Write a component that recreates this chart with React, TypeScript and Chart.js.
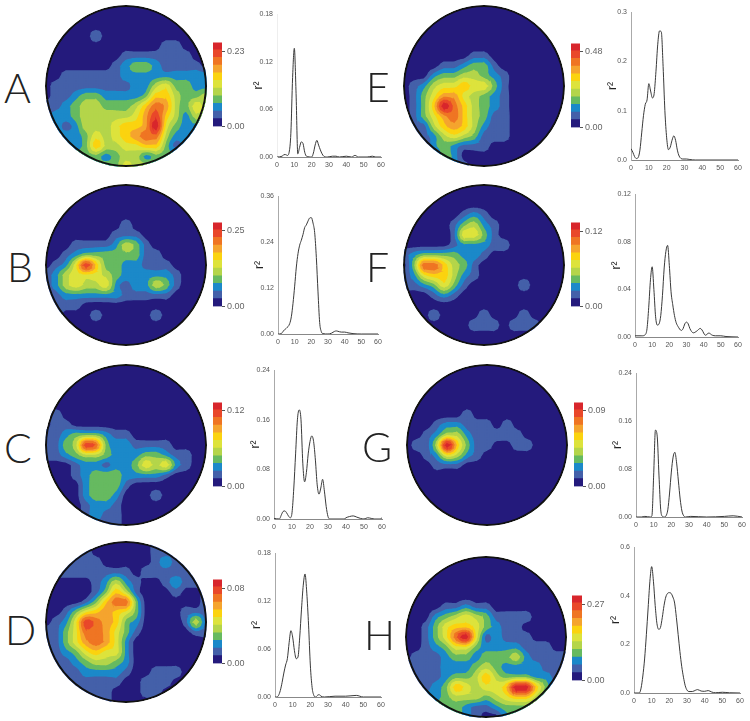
import React, { useEffect, useRef } from "react";
import { Chart, registerables } from "chart.js";

Chart.register(...registerables);

const Z = "00000000000000000";

const bandColors = ["#241a7c", "#4460a9", "#1b89c9", "#66ba60", "#b4d54a", "#dde33c", "#fbd30f", "#f5a42e", "#ef7523", "#e9482a", "#d8262c"];

// Colour band at each sample of a 17 x 17 grid over the disc (hex digit = band index)
const gridA = [Z, Z, Z, "00000100000000000", "00000000000011000", "00000000111111100", "00000001233211110", "00111111222222222", "01111111122453322", "01123322223664334", "11234433346874354", "12234444457964244", "12124445667a53223", "22223545678842211", "22223644556631222", "33333323442333333", "33333333544333333"];
const gridB = [Z, Z, Z, Z, "00000000100000000", "00000001110000000", "00011112431000000", "00123333331100000", "01259633221110000", "12455543222221000", "12454452122431000", "11222222111110000", "11110000000000000", "01000100000100000", Z, Z, Z];
const gridC = [Z, Z, Z, Z, Z, "01000000000000000", "01100000000000000", "11233321100000000", "11349832211110000", "11234432223321100", "00012212235452100", "00012333222210000", "00002333100000000", "00002332000100000", "00001221000000000", "00001211000000000", "00000111000000000"];
const gridD = ["11111000000111111", "11111000000111111", "11111100000121111", "11111111101111111", "00000124210012111", "00000136410001001", "00001368830000001", "00135676530000111", "01259876320000141", "11358875310000011", "11357875200000000", "11235655200000000", "11123443200000000", "11112222100111000", "11111111001110000", "11111110001100000", "11111110000000000"];
const gridE = [Z, Z, Z, Z, Z, "00000001100000000", "00001123310000000", "00023344321000000", "01245565531000000", "01357754321000000", "0136a864321000000", "01357864311000000", "01146764211000000", "00124543111000000", "00023211100000000", "00003200000000000", "00003210000000000"];
const gridF = [Z, Z, Z, "00000012100000000", "00000134210000000", "00000155310000000", "00000122211000000", "12333322100000000", "03886431000000000", "12566421000000000", "11235310000010000", "00012100000000000", Z, "00010000100010000", "00000001110111000", Z, Z];
const gridG = [Z, Z, Z, Z, Z, "00000010000000000", "00012211101000000", "00124421111100000", "0114a631100110000", "00125421000000000", "00011100000000000", Z, Z, Z, Z, Z, Z];
const gridH = [Z, Z, Z, Z, Z, "00001121100000000", "00023454311110000", "00135665321100000", "001358a5121110000", "00123553222211100", "01112332333421111", "11112223432222111", "11112334643332211", "11123654556aa6311", "22223444345664222", "33333321123333333", "33333321002333333"];

// r² curves: [x, r²]
const curveA = [[0,0],[3,.001],[4,.003],[5,.003],[6,.002],[7,.006],[8,.03],[9,.1],[10,.137],[11,.08],[12,.004],[13,.012],[14,.019],[15,.017],[16,.006],[17,.001],[20,0],[21,.005],[22,.015],[23,.021],[24,.015],[25,.009],[26,.004],[27,.001],[29,0],[32,.001],[34,.001],[36,0],[40,.001],[43,0],[45,.002],[47,0],[52,0],[55,.001],[57,0],[60,0]];
const curveB = [[0,0],[2,.001],[3,.007],[5,.015],[7,.027],[8,.045],[9,.08],[10,.125],[11,.175],[12,.21],[13,.232],[14,.245],[15,.26],[16,.278],[17,.285],[18,.295],[19,.303],[20,.304],[21,.29],[22,.265],[23,.2],[24,.11],[25,.03],[26,.006],[27,.001],[30,0],[32,.002],[34,.007],[35,.008],[36,.007],[38,.005],[40,.005],[42,.003],[45,.001],[50,0],[60,0]];
const curveC = [[0,.001],[3,0],[4,.006],[5,.012],[6,.013],[7,.01],[8,.005],[9,.002],[10,.01],[11,.05],[12,.105],[13,.16],[14,.176],[15,.16],[16,.09],[17,.06],[18,.075],[19,.105],[20,.125],[21,.134],[22,.125],[23,.095],[24,.055],[25,.04],[26,.05],[27,.064],[28,.045],[29,.02],[30,.004],[31,0],[39,0],[40,.002],[42,.004],[44,.005],[46,.003],[48,.001],[50,0],[52,.002],[54,.001],[56,0],[59,0],[60,.002]];
const curveD = [[0,0],[1,0],[2,.002],[3,.008],[4,.018],[5,.03],[6,.04],[7,.048],[8,.068],[9,.083],[10,.075],[11,.058],[12,.048],[13,.05],[14,.075],[15,.11],[16,.14],[17,.154],[18,.13],[19,.09],[20,.04],[21,.012],[22,.002],[23,0],[24,.002],[25,.003],[26,.001],[28,0],[34,.001],[40,.001],[46,.002],[50,0],[60,0]];
const curveE = [[0,.023],[1,.016],[2,.007],[3,.003],[4,.005],[5,.02],[6,.055],[7,.09],[8,.113],[9,.122],[10,.155],[11,.14],[12,.126],[13,.135],[14,.18],[15,.235],[16,.262],[17,.26],[18,.19],[19,.1],[20,.045],[21,.021],[22,.026],[23,.04],[24,.049],[25,.04],[26,.02],[27,.008],[29,.002],[31,.002],[33,.001],[36,0],[60,0]];
const curveF = [[0,.001],[4,.001],[6,.002],[7,.007],[8,.025],[9,.048],[10,.059],[11,.04],[12,.017],[13,.01],[14,.011],[15,.018],[16,.035],[17,.058],[18,.072],[19,.077],[20,.06],[21,.038],[22,.027],[23,.018],[24,.012],[25,.009],[27,.0055],[28,.007],[29,.011],[30,.0125],[31,.011],[32,.007],[34,.0035],[36,.005],[38,.0072],[39,.006],[41,.0015],[43,.0033],[45,.0015],[47,.001],[50,.001],[53,.0004],[60,0]];
const curveG = [[0,0],[3,0],[5,.001],[8,0],[9,.002],[10,.07],[11,.145],[12,.135],[13,.07],[14,.012],[15,.001],[16,0],[17,.002],[18,.012],[19,.04],[20,.075],[21,.1],[22,.108],[23,.09],[24,.06],[25,.03],[26,.01],[27,.002],[28,0],[31,.001],[40,0],[50,.001],[55,.002],[60,0]];
const curveH = [[0,0],[3,0],[4,.02],[5,.07],[6,.14],[7,.24],[8,.35],[9,.46],[10,.52],[11,.46],[12,.36],[13,.285],[14,.262],[15,.27],[16,.31],[17,.36],[18,.395],[19,.41],[20,.413],[21,.41],[22,.395],[23,.37],[24,.31],[25,.24],[26,.17],[27,.11],[28,.065],[29,.03],[30,.012],[31,.006],[33,.006],[35,.012],[36,.014],[38,.008],[40,.007],[42,.01],[44,.004],[46,.001],[50,.003],[54,.001],[60,0]];

const xTicks = [0, 10, 20, 30, 40, 50, 60];

const panels = [
  { letter: "A", lx: 4, ly: 67, grid: gridA, cx: 126, cy: 86, bar: [213, 41, 9, 87], scaleMax: 0.2565, label: 0.23, curve: curveA, plot: [277, 12, 104, 145], yTicks: [0, 0.06, 0.12, 0.18], dec: 2, axis: "#eeeeee" },
  { letter: "B", lx: 7, ly: 246, grid: gridB, cx: 126, cy: 265, bar: [213, 221, 9, 87], scaleMax: 0.2763, label: 0.25, curve: curveB, plot: [278, 194, 100, 140], yTicks: [0, 0.12, 0.24, 0.36], dec: 2, axis: "#aaaaaa" },
  { letter: "C", lx: 4, ly: 427, grid: gridC, cx: 126, cy: 445, bar: [213, 401, 9, 87], scaleMax: 0.1326, label: 0.12, curve: curveC, plot: [274, 368, 108, 151], yTicks: [0, 0.08, 0.16, 0.24], dec: 2, axis: "#aaaaaa" },
  { letter: "D", lx: 5, ly: 609, grid: gridD, cx: 126, cy: 622, bar: [213, 578, 9, 87], scaleMax: 0.0892, label: 0.08, curve: curveD, plot: [275, 551, 106, 146], yTicks: [0, 0.06, 0.12, 0.18], dec: 2, axis: "#aaaaaa" },
  { letter: "E", lx: 366, ly: 66, grid: gridE, cx: 484, cy: 86, bar: [571, 42, 9, 87], scaleMax: 0.53, label: 0.48, curve: curveE, plot: [631, 10, 107, 150], yTicks: [0, 0.1, 0.2, 0.3], dec: 1, axis: "#aaaaaa" },
  { letter: "F", lx: 366, ly: 246, grid: gridF, cx: 484, cy: 265, bar: [571, 221, 9, 87], scaleMax: 0.1338, label: 0.12, curve: curveF, plot: [635, 192, 103, 145], yTicks: [0, 0.04, 0.08, 0.12], dec: 2, axis: "#aaaaaa" },
  { letter: "G", lx: 362, ly: 426, grid: gridG, cx: 487, cy: 445, bar: [574, 401, 9, 87], scaleMax: 0.0998, label: 0.09, curve: curveG, plot: [636, 371, 106, 146], yTicks: [0, 0.08, 0.16, 0.24], dec: 2, axis: "#aaaaaa" },
  { letter: "H", lx: 364, ly: 614, grid: gridH, cx: 486, cy: 637, bar: [572, 594, 10, 88], scaleMax: 0.3006, label: 0.27, curve: curveH, plot: [634, 545, 106, 148], yTicks: [0, 0.2, 0.4, 0.6], dec: 1, axis: "#aaaaaa" },
];

const SANS = "'Liberation Sans', Arial, sans-serif";
const UP = 3;

function cr(p0: number, p1: number, p2: number, p3: number, t: number) {
  const v = 0.5 * (2 * p1 + (p2 - p0) * t + (2 * p0 - 5 * p1 + 4 * p2 - p3) * t * t + (3 * p1 - p0 - 3 * p2 + p3) * t * t * t);
  return Math.min(Math.max(p1, p2), Math.max(Math.min(p1, p2), v));
}

function refine(line: number[]) {
  const at = (i: number) => line[Math.max(0, Math.min(line.length - 1, i))];
  const out: number[] = [];
  for (let i = 0; i < line.length - 1; i++) {
    for (let s = 0; s < UP; s++) out.push(cr(at(i - 1), at(i), at(i + 1), at(i + 2), s / UP));
  }
  out.push(line[line.length - 1]);
  return out;
}

// Smooth the read-off samples so the level outlines are drawn with rounded corners
function smoothGrid(grid: string[]) {
  const rows = grid.map((r) => refine(Array.from({ length: 17 }, (_, j) => parseInt(r[j], 16) || 0)));
  const n = rows[0].length;
  const cols = Array.from({ length: n }, (_, j) => refine(rows.map((r) => r[j])));
  return cols; // cols[j][i]
}

function levelPolygons(field: number[][], threshold: number) {
  const n = field.length - 1;
  const step = 1 / UP;
  const pts: { x: number; y: number }[] = [];
  for (let i = 0; i < n; i++) {
    for (let j = 0; j < n; j++) {
      const c = [[j, i], [j + 1, i], [j + 1, i + 1], [j, i + 1]];
      const v = c.map(([x, y]) => field[x][y]);
      const poly: { x: number; y: number }[] = [];
      for (let k = 0; k < 4; k++) {
        const m = (k + 1) % 4;
        if (v[k] >= threshold) poly.push({ x: c[k][0] * step - 8, y: c[k][1] * step - 8 });
        if (v[k] >= threshold !== v[m] >= threshold) {
          const f = (threshold - v[k]) / (v[m] - v[k]);
          poly.push({ x: (c[k][0] + f * (c[m][0] - c[k][0])) * step - 8, y: (c[k][1] + f * (c[m][1] - c[k][1])) * step - 8 });
        }
      }
      if (poly.length >= 3) pts.push(...poly, poly[0], { x: NaN, y: NaN });
    }
  }
  return pts;
}

function MapChart({ grid, cx, cy }: any) {
  const ref = useRef<HTMLCanvasElement>(null);
  useEffect(() => {
    const R = 80;
    const clipPlugin = {
      id: "discClip",
      beforeDatasetsDraw(chart: any) {
        const { ctx, scales } = chart;
        ctx.save();
        ctx.beginPath();
        ctx.arc(scales.x.getPixelForValue(0), scales.y.getPixelForValue(0), R + 1, 0, Math.PI * 2);
        ctx.clip();
      },
      afterDatasetsDraw(chart: any) {
        chart.ctx.restore();
      },
    };
    const field = smoothGrid(grid);
    const levels = bandColors.slice(1).map((color, idx) => ({
      data: levelPolygons(field, idx + 0.5),
      showLine: true,
      fill: "shape",
      tension: 0.0001,
      backgroundColor: color,
      borderColor: color,
      borderWidth: 1.3,
      pointRadius: 0,
      pointHoverRadius: 0,
      spanGaps: false,
      order: 100 - idx,
    }));
    const chart = new Chart(ref.current!, {
      type: "scatter",
      data: {
        datasets: [
          { data: [{ x: 0, y: 0 }], pointRadius: R, backgroundColor: bandColors[0], borderColor: bandColors[0], borderWidth: 0, order: 1000 },
          ...levels,
          { data: [{ x: 0, y: 0 }], pointRadius: R, backgroundColor: "rgba(0,0,0,0)", borderColor: "#111111", borderWidth: 2, order: -1 },
        ],
      } as any,
      options: {
        responsive: false,
        animation: false,
        events: [],
        layout: { padding: 0, autoPadding: false },
        plugins: { legend: { display: false }, tooltip: { enabled: false } },
        scales: {
          x: { type: "linear", display: false, min: -8.5, max: 8.5 },
          y: { type: "linear", display: false, min: -8.5, max: 8.5, reverse: true },
        },
      },
      plugins: [clipPlugin],
    } as any);
    return () => chart.destroy();
  }, []);
  return <canvas ref={ref} width={170} height={170} style={{ position: "absolute", left: cx - 85, top: cy - 85, display: "block" }} />;
}

function ColorBar({ bar, scaleMax, label }: any) {
  const ref = useRef<HTMLCanvasElement>(null);
  const [x, y, w, h] = bar;
  const pad = 6;
  const axisW = 30;
  useEffect(() => {
    const chart = new Chart(ref.current!, {
      type: "bar",
      data: {
        labels: [""],
        datasets: bandColors.map((c) => ({
          data: [scaleMax / bandColors.length],
          backgroundColor: c,
          stack: "s",
          barPercentage: 1,
          categoryPercentage: 1,
          borderWidth: 0,
          inflateAmount: 0.6,
        })),
      },
      options: {
        responsive: false,
        animation: false,
        events: [],
        layout: { padding: { top: pad, bottom: pad, left: 0, right: 0 }, autoPadding: false },
        plugins: { legend: { display: false }, tooltip: { enabled: false } },
        scales: {
          x: { display: false, stacked: true },
          y: {
            stacked: true,
            position: "right",
            min: 0,
            max: scaleMax,
            afterFit: (s: any) => { s.width = axisW; },
            afterBuildTicks: (s: any) => { s.ticks = [{ value: 0 }, { value: label }]; },
            grid: { drawOnChartArea: false, tickLength: 3, tickColor: "#555555", tickWidth: 1 },
            border: { display: false },
            ticks: { autoSkip: false, padding: 2, color: "#666666", font: { family: SANS, size: 9 }, callback: (v: any) => Number(v).toFixed(2) },
          },
        },
      },
    } as any);
    return () => chart.destroy();
  }, []);
  return <canvas ref={ref} width={w + axisW} height={h + pad * 2} style={{ position: "absolute", left: x, top: y - pad, display: "block" }} />;
}

function CurveChart({ curve, plot, yTicks, dec, axis }: any) {
  const ref = useRef<HTMLCanvasElement>(null);
  const [x, y, w, h] = plot;
  const axisW = 26;
  const axisH = 16;
  const padT = 6;
  const padR = 8;
  useEffect(() => {
    const chart = new Chart(ref.current!, {
      type: "line",
      data: {
        datasets: [{
          data: curve.map(([a, b]: number[]) => ({ x: a, y: b })),
          borderColor: "#3a3a3a",
          borderWidth: 1,
          pointRadius: 0,
          cubicInterpolationMode: "monotone",
          fill: false,
        }],
      },
      options: {
        responsive: false,
        animation: false,
        events: [],
        layout: { padding: { top: padT, right: padR, left: 0, bottom: 0 }, autoPadding: false },
        plugins: { legend: { display: false }, tooltip: { enabled: false } },
        scales: {
          x: {
            type: "linear",
            min: 0,
            max: 60,
            afterFit: (s: any) => { s.height = axisH; },
            afterBuildTicks: (s: any) => { s.ticks = xTicks.map((value) => ({ value })); },
            grid: { display: false, drawTicks: false },
            border: { display: true, color: "#888888", width: 1 },
            ticks: { autoSkip: false, maxRotation: 0, padding: 4, color: "#555555", font: { family: SANS, size: 7 } },
          },
          y: {
            type: "linear",
            min: 0,
            max: yTicks[yTicks.length - 1],
            afterFit: (s: any) => { s.width = axisW; },
            afterBuildTicks: (s: any) => { s.ticks = yTicks.map((value: number) => ({ value })); },
            grid: { display: false, drawTicks: false },
            border: { display: true, color: axis, width: 1 },
            title: { display: true, text: "r²", color: "#222222", font: { family: SANS, size: 12 }, padding: 0 },
            ticks: { autoSkip: false, padding: 4, color: "#555555", font: { family: SANS, size: 7 }, callback: (v: any) => Number(v).toFixed(dec) },
          },
        },
      },
    } as any);
    return () => chart.destroy();
  }, []);
  return <canvas ref={ref} width={w + axisW + padR} height={h + padT + axisH} style={{ position: "absolute", left: x - axisW, top: y - padT, display: "block" }} />;
}

export default function App() {
  return (
    <div style={{ position: "absolute", left: 0, top: 0, width: 750, height: 721, overflow: "hidden", background: "#ffffff" }}>
      {panels.map((p) => (
        <React.Fragment key={p.letter}>
          <div style={{ position: "absolute", left: p.lx, top: p.ly, fontFamily: "Lato, sans-serif", fontWeight: 300, fontSize: 41, lineHeight: "41px", color: "#222222" }}>{p.letter}</div>
          <MapChart grid={p.grid} cx={p.cx} cy={p.cy} />
          <ColorBar bar={p.bar} scaleMax={p.scaleMax} label={p.label} />
          <CurveChart curve={p.curve} plot={p.plot} yTicks={p.yTicks} dec={p.dec} axis={p.axis} />
        </React.Fragment>
      ))}
    </div>
  );
}
